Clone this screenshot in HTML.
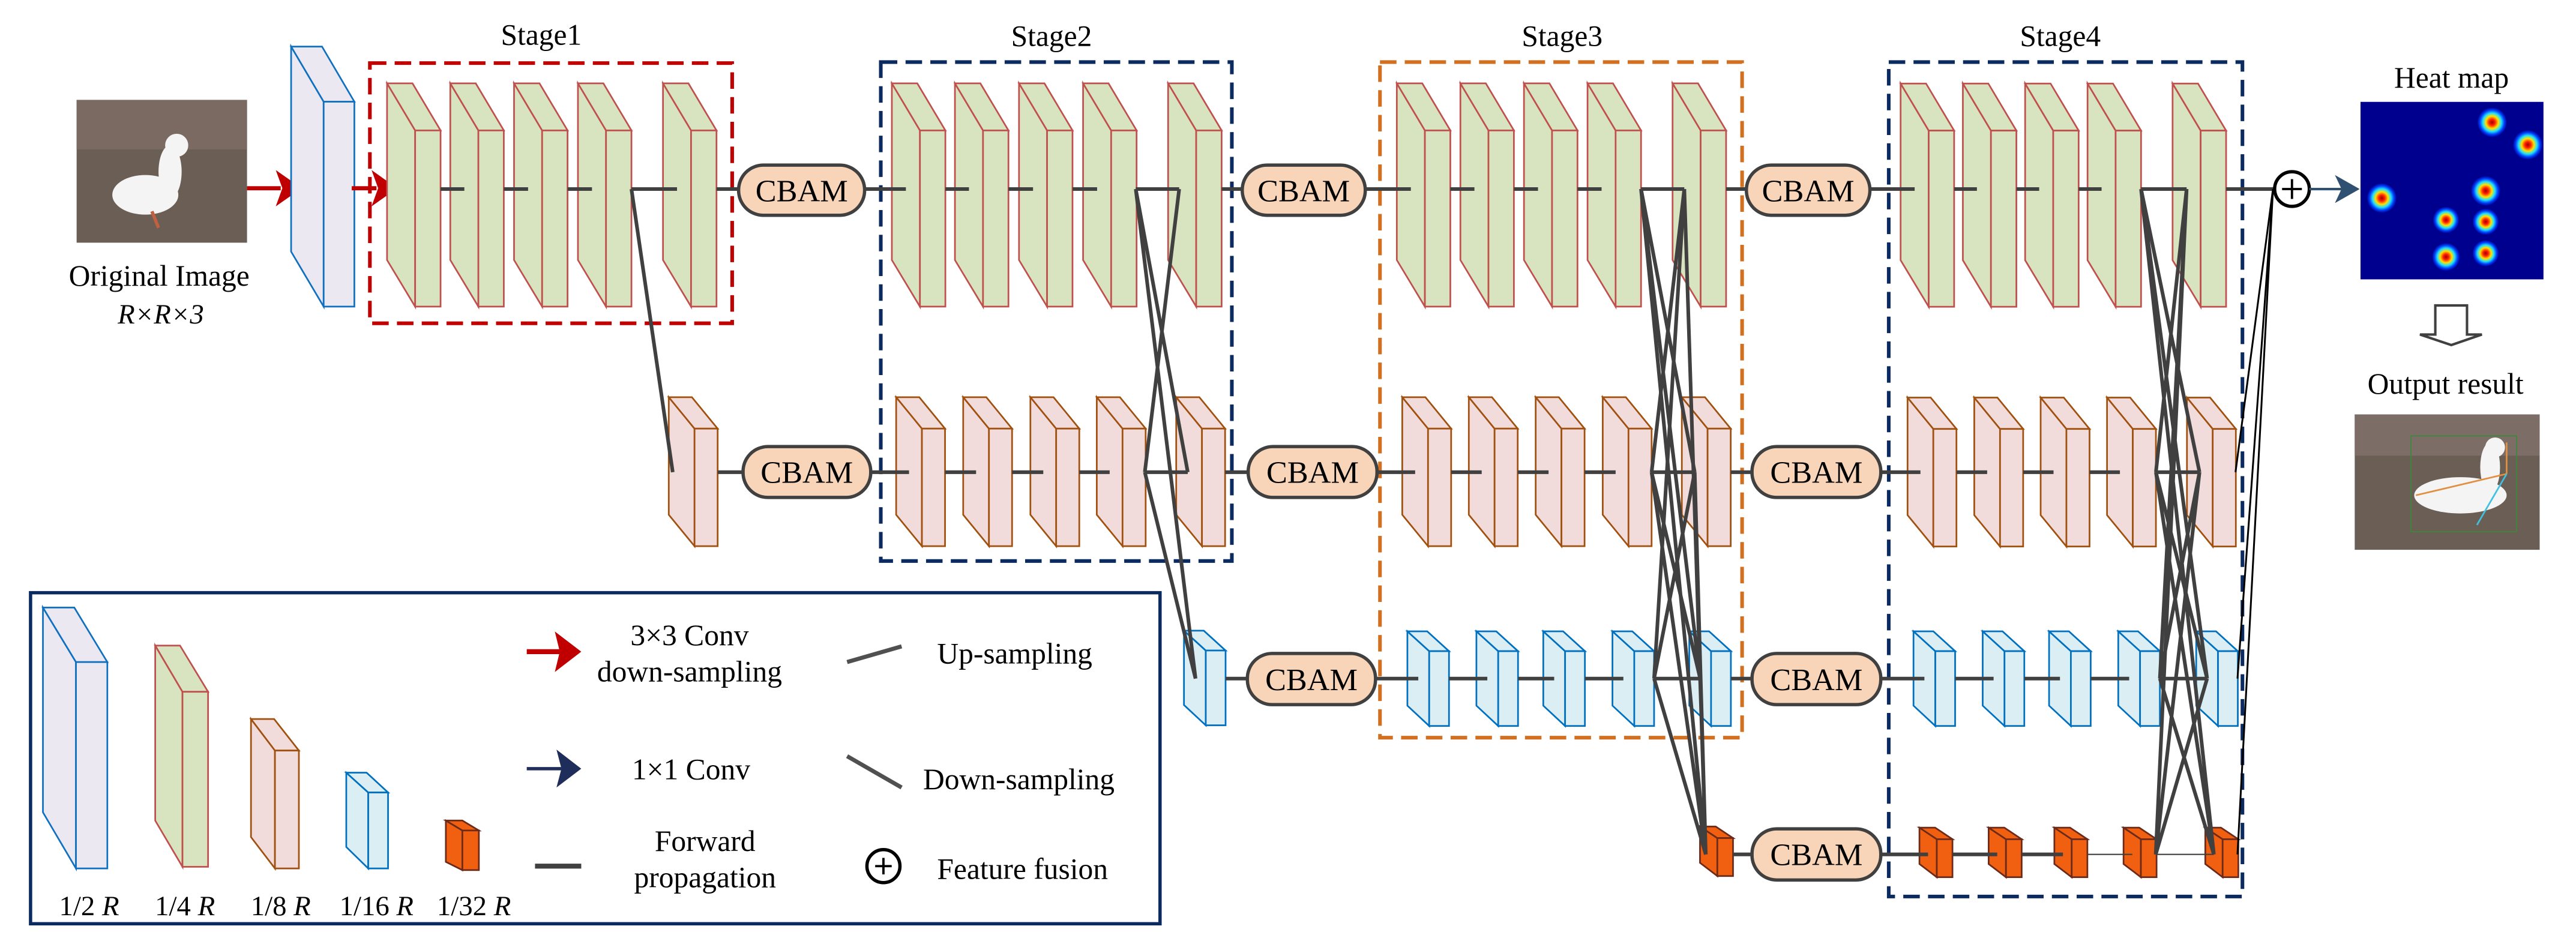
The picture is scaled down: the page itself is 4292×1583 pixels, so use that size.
<!DOCTYPE html>
<html><head><meta charset="utf-8"><style>
html,body{margin:0;padding:0;background:#fff;}
svg{display:block;}
svg text{font-family:"Liberation Serif","DejaVu Serif",serif !important;fill:#000;}
</style></head><body>
<svg width="4292" height="1583" viewBox="0 0 1560 575.4" preserveAspectRatio="none" xmlns="http://www.w3.org/2000/svg" font-family="Liberation Serif, DejaVu Serif, serif">
<defs>
<g id="G" stroke="#c0504d" stroke-width="1" fill="#d8e4c0" stroke-linejoin="miter">
<polygon points="0,0 17,28.5 17,135.2 0,107"/><polygon points="0,0 15.4,0 32.4,28.5 17,28.5"/><rect x="17" y="28.5" width="15.4" height="106.7"/></g>
<g id="P" stroke="#a0500f" stroke-width="1" fill="#f2dcdb">
<polygon points="0,0 15.6,19 15.6,90.2 0,71.2"/><polygon points="0,0 14,0 29.6,19 15.6,19"/><rect x="15.6" y="19" width="14" height="71.2"/></g>
<g id="B" stroke="#0070c0" stroke-width="1" fill="#dbeef4">
<polygon points="0,0 13.2,12 13.2,57.3 0,45"/><polygon points="0,0 12,0 25.2,12 13.2,12"/><rect x="13.2" y="12" width="12" height="45.3"/></g>
<g id="O" stroke="#6b2a1a" stroke-width="1" fill="#f06010">
<polygon points="0,0 10.5,7 10.5,30 0,22"/><polygon points="0,0 9.5,0 20,7 10.5,7"/><rect x="10.5" y="7" width="9.5" height="23"/></g>
<radialGradient id="hm"><stop offset="0" stop-color="#a00000"/><stop offset="0.2" stop-color="#ff2000"/><stop offset="0.42" stop-color="#ffe000"/><stop offset="0.62" stop-color="#20e0ff"/><stop offset="0.82" stop-color="#0040ff"/><stop offset="1" stop-color="#00008f"/></radialGradient>
</defs>

<!-- Original image -->
<rect x="46.4" y="60.5" width="103.2" height="86.5" fill="#6a5e55"/>
<rect x="46.4" y="60.5" width="103.2" height="30" fill="#7a6a62"/>
<ellipse cx="88" cy="118" rx="20" ry="12" fill="#f4f4f4"/>
<ellipse cx="103" cy="104" rx="7" ry="16" fill="#f4f4f4"/>
<circle cx="107" cy="88" r="7" fill="#f4f4f4"/>
<line x1="92" y1="128" x2="96" y2="138" stroke="#c06040" stroke-width="2"/>
<g font-family="Liberation Serif, serif">
<text x="96.4" y="173" font-size="18" text-anchor="middle">Original Image</text>
<text x="97.4" y="196" font-size="17" text-anchor="middle" font-style="italic">R×R×3</text>
</g>
<!-- red arrows -->
<line x1="149.6" y1="114" x2="170" y2="114" stroke="#c00000" stroke-width="2.5"/>
<polygon points="167,103 182.7,114 167,125 171,114" fill="#c00000"/>
<g stroke="#1070c0" stroke-width="1" fill="#ebe8f2"><polygon points="176.3,28.2 196,61.6 196,185.7 176.3,152.4"/><polygon points="176.3,28.2 195,28.2 214.6,61.6 196,61.6"/><rect x="196" y="61.6" width="18.6" height="124.1"/></g>
<line x1="213" y1="114" x2="228" y2="114" stroke="#c00000" stroke-width="2.5"/>
<polygon points="225,103 240.5,114 225,125 229,114" fill="#c00000"/>

<!-- stage boxes -->
<g fill="none" stroke-width="2.2" stroke-dasharray="10,5">
<rect x="224" y="38.2" width="219.4" height="157.6" stroke="#c00000"/>
<rect x="533.4" y="37.6" width="212.6" height="302.2" stroke="#0b2a60"/>
<rect x="835.7" y="37.6" width="219.3" height="409.2" stroke="#d07020"/>
<rect x="1143.8" y="37.6" width="214.2" height="505.4" stroke="#0b2a60"/>
</g>
<g font-size="18" text-anchor="middle" font-family="Liberation Serif, serif">
<text x="327.8" y="27">Stage1</text><text x="636.8" y="27.8">Stage2</text><text x="946" y="27.8">Stage3</text><text x="1247.7" y="27.8">Stage4</text>
</g>

<!-- blocks -->
<use href="#G" x="234.4" y="50.5"/><use href="#G" x="272.7" y="50.5"/><use href="#G" x="311.3" y="50.5"/><use href="#G" x="350" y="50.5"/><use href="#G" x="401.5" y="50.5"/>
<use href="#P" x="405" y="240.6"/>
<use href="#G" x="540.1" y="50.5"/><use href="#G" x="578.3" y="50.5"/><use href="#G" x="617.1" y="50.5"/><use href="#G" x="655.9" y="50.5"/><use href="#G" x="707.4" y="50.5"/>
<use href="#P" x="542.7" y="240.6"/><use href="#P" x="583.3" y="240.6"/><use href="#P" x="624" y="240.6"/><use href="#P" x="664.2" y="240.6"/><use href="#P" x="712.3" y="240.6"/>
<use href="#B" x="717" y="382"/>
<use href="#G" x="845.9" y="50.5"/><use href="#G" x="884.4" y="50.5"/><use href="#G" x="922.9" y="50.5"/><use href="#G" x="961.4" y="50.5"/><use href="#G" x="1012.9" y="50.5"/>
<use href="#P" x="849.2" y="240.6"/><use href="#P" x="889.5" y="240.6"/><use href="#P" x="930" y="240.6"/><use href="#P" x="970.6" y="240.6"/><use href="#P" x="1018.5" y="240.6"/>
<use href="#B" x="852.3" y="382.4"/><use href="#B" x="894.1" y="382.4"/><use href="#B" x="934.6" y="382.4"/><use href="#B" x="976.5" y="382.4"/><use href="#B" x="1023" y="382.4"/>
<use href="#O" x="1029.5" y="500.6"/>
<use href="#G" x="1151" y="50.6"/><use href="#G" x="1188.7" y="50.6"/><use href="#G" x="1226.4" y="50.6"/><use href="#G" x="1264.2" y="50.6"/><use href="#G" x="1315.7" y="50.6"/>
<use href="#P" x="1155.2" y="240.8"/><use href="#P" x="1195.6" y="240.8"/><use href="#P" x="1235.8" y="240.8"/><use href="#P" x="1276" y="240.8"/><use href="#P" x="1324.4" y="240.8"/>
<use href="#B" x="1158.8" y="382.4"/><use href="#B" x="1200.7" y="382.4"/><use href="#B" x="1240.9" y="382.4"/><use href="#B" x="1282.8" y="382.4"/><use href="#B" x="1330" y="382.4"/>
<use href="#O" x="1162.4" y="501.3"/><use href="#O" x="1204.3" y="501.3"/><use href="#O" x="1244.1" y="501.3"/><use href="#O" x="1286" y="501.3"/><use href="#O" x="1335.5" y="501.3"/>

<!-- connectors -->
<g stroke="#404040" stroke-width="2.2" fill="none">
<path d="M266.8 114.5H281.2M305.1 114.5H319.8M343.7 114.5H358.5M382.4 114.5H410M433.9 114.5H447.3"/>
<path d="M382.4 114.5L407.4 286"/>
<path d="M434.6 286H450"/>
<path d="M523.6 114.5H548.6M572.5 114.5H586.8M610.7 114.5H625.6M649.5 114.5H664.4M687.8 114.5H714.1M739.8 114.5H752.3"/>
<path d="M527.3 286H550.5M572.3 286H591.1M612.9 286H631.8M653.6 286H672M693.3 286H719.3M741.9 286H755.9"/>
<path d="M742.2 411H755.4"/>
<path d="M687.8 114.5L719.3 286M714.1 114.5L693.3 286M687.8 114.5L724 411M693.3 286L724 411"/>
<path d="M826.8 114.5H854.4M878.3 114.5H892.9M916.8 114.5H931.4M955.3 114.5H969.9M993.8 114.5H1020M1045.3 114.5H1057.6"/>
<path d="M833.9 286H857M878.8 286H897.3M919.1 286H937.8M959.6 286H978.4M1000.2 286H1026.3M1048.1 286H1061"/>
<path d="M833 411H858.9M877.5 411H900.7M919.3 411H941.2M959.8 411H983.1M1001.7 411H1029.6M1048.2 411H1061"/>
<path d="M1049.5 517.5H1061"/>
<path d="M993.8 114.5L1026.3 286M993.8 114.5L1029.6 411M1000.2 286L1020 114.5M1000.2 286L1029.6 411M1001.7 411L1020 114.5M1001.7 411L1026.3 286"/>
<path d="M993.8 114.5L1033 517.5M1000.2 286L1033 517.5M1001.7 411L1033 517.5M1020 114.5L1033 517.5M1026.3 286L1033 517.5"/>
<path d="M1132.4 114.5H1159.5M1183.4 114.5H1197.2M1221.1 114.5H1234.9M1258.8 114.5H1272.7M1296.6 114.5H1324.2M1348.1 114.5H1377.5"/>
<path d="M1139 286H1163M1184.8 286H1203.4M1225.2 286H1243.6M1265.4 286H1283.8M1305.6 286H1332"/>
<path d="M1139 411H1165.4M1184 411H1207.3M1225.9 411H1247.5M1266.1 411H1289.4M1308 411H1336.6"/>
<path d="M1139 517.5H1167.6M1182.4 517.5H1209.5M1224.3 517.5H1249.3"/>
<path d="M1296.6 114.5L1332 286M1296.6 114.5L1336.6 411M1296.6 114.5L1340.7 517.5M1305.6 286L1324.2 114.5M1305.6 286L1336.6 411M1305.6 286L1340.7 517.5M1308 411L1324.2 114.5M1308 411L1332 286M1308 411L1340.7 517.5M1305.5 517.5L1324.2 114.5M1305.5 517.5L1332 286M1305.5 517.5L1336.6 411"/>
</g>
<g stroke="#404040" stroke-width="0.8"><path d="M1264.1 517.5H1291.3M1305.5 517.5H1340.7"/></g>
<g stroke="#000" stroke-width="1.1"><path d="M1353.8 286L1376.5 114.5M1355 411L1376.5 114.5M1355 517.5L1376.5 114.5"/></g>

<!-- CBAM -->
<g fill="#f8d5b8" stroke="#404040" stroke-width="2">
<rect x="447.3" y="100" width="76.3" height="30.4" rx="15"/>
<rect x="752.3" y="100" width="74.5" height="30.4" rx="15"/>
<rect x="1057.6" y="100" width="74.8" height="30.4" rx="15"/>
<rect x="450" y="270.5" width="77.3" height="30.8" rx="15"/>
<rect x="755.9" y="270.5" width="78" height="30.8" rx="15"/>
<rect x="1061" y="270.5" width="78" height="30.8" rx="15"/>
<rect x="755.4" y="395.8" width="77.6" height="31" rx="15"/>
<rect x="1061" y="395.8" width="78" height="31" rx="15"/>
<rect x="1061" y="502" width="78" height="31" rx="15"/>
</g>
<g font-size="19" text-anchor="middle" font-family="Liberation Serif, serif">
<text x="485.5" y="122">CBAM</text><text x="789.5" y="122">CBAM</text><text x="1095" y="122">CBAM</text>
<text x="488.6" y="292.5">CBAM</text><text x="794.9" y="292.5">CBAM</text><text x="1100" y="292.5">CBAM</text>
<text x="794.2" y="418">CBAM</text><text x="1100" y="418">CBAM</text><text x="1100" y="524">CBAM</text>
</g>

<!-- fusion and output -->
<circle cx="1388" cy="114.5" r="10.5" fill="#fff" stroke="#000" stroke-width="2"/>
<path d="M1382 114.5H1394M1388 108.5V120.5" stroke="#000" stroke-width="1.4"/>
<line x1="1398.5" y1="114.5" x2="1420" y2="114.5" stroke="#2f5070" stroke-width="1.5"/>
<polygon points="1414,106 1429,114.5 1414,123 1418,114.5" fill="#2f5070"/>
<rect x="1429.5" y="61.7" width="110.8" height="107.5" fill="#00008f"/>
<g fill="url(#hm)">
<circle cx="1509.2" cy="74.1" r="9"/><circle cx="1530.8" cy="87.7" r="9"/><circle cx="1442.4" cy="120" r="9"/><circle cx="1505.3" cy="115.6" r="9"/>
<circle cx="1481.3" cy="133.2" r="8"/><circle cx="1505.3" cy="134.3" r="8"/><circle cx="1481.3" cy="155.6" r="8.5"/><circle cx="1505.3" cy="153.4" r="8"/>
</g>
<polygon points="1474.8,185 1494,185 1494,202.6 1503,202.6 1484.5,209 1465.5,202.6 1474.8,202.6" fill="#fff" stroke="#404040" stroke-width="1.5"/>
<rect x="1426" y="251" width="112" height="82" fill="#6a5e55"/>
<rect x="1426" y="251" width="112" height="25" fill="#7c6e66"/>
<rect x="1460" y="264" width="64" height="58" fill="none" stroke="#3a8a3a" stroke-width="0.6"/>
<ellipse cx="1490" cy="300" rx="28" ry="11" fill="#f4f4f4"/>
<ellipse cx="1508" cy="283" rx="6" ry="15" fill="#f4f4f4"/>
<circle cx="1511" cy="271" r="6" fill="#f4f4f4"/>
<path d="M1463 300L1518 287M1518 287V268" stroke="#e09040" stroke-width="1" fill="none"/>
<path d="M1518 287L1500 318" stroke="#40c0e0" stroke-width="1"/>
<g font-size="18" text-anchor="middle" font-family="Liberation Serif, serif">
<text x="1484.6" y="53">Heat map</text>
<text x="1481" y="238.5">Output result</text>
</g>

<!-- legend -->
<rect x="18.5" y="359" width="684" height="200.5" fill="none" stroke="#0b2a60" stroke-width="2"/>
<g stroke-width="1">
<g stroke="#1070c0" fill="#ebe8f2"><polygon points="26,368 46,401 46,526 26,492"/><polygon points="26,368 45,368 65,401 46,401"/><rect x="46" y="401" width="19" height="125"/></g>
<g stroke="#c0504d" fill="#d8e4c0"><polygon points="94,391 110.5,419 110.5,525 94,497"/><polygon points="94,391 109,391 126,419 110.5,419"/><rect x="110.5" y="419" width="15.5" height="106"/></g>
<g stroke="#a0500f" fill="#f2dcdb"><polygon points="152,435.5 166.5,454.6 166.5,526 152,507"/><polygon points="152,435.5 166,435.5 181,454.6 166.5,454.6"/><rect x="166.5" y="454.6" width="14.5" height="71.4"/></g>
<g stroke="#0070c0" fill="#dbeef4"><polygon points="209.7,468 223,480 223,526 209.7,513"/><polygon points="209.7,468 222,468 235,480 223,480"/><rect x="223" y="480" width="12" height="46"/></g>
<g stroke="#6b2a1a" fill="#f06010"><polygon points="270,497 280,503 280,527 270,522"/><polygon points="270,497 280,497 290,503 280,503"/><rect x="280" y="503" width="10" height="24"/></g>
</g>
<g font-size="17" text-anchor="middle" font-family="Liberation Serif, serif">
<text x="54" y="554.4">1/2 <tspan font-style="italic">R</tspan></text>
<text x="112" y="554.4">1/4 <tspan font-style="italic">R</tspan></text>
<text x="170" y="554.4">1/8 <tspan font-style="italic">R</tspan></text>
<text x="228" y="554.4">1/16 <tspan font-style="italic">R</tspan></text>
<text x="287" y="554.4">1/32 <tspan font-style="italic">R</tspan></text>
</g>
<line x1="319" y1="394.7" x2="340" y2="394.7" stroke="#c00000" stroke-width="3"/>
<polygon points="336,382.5 352,394.7 336,407 339,394.7" fill="#c00000"/>
<line x1="319" y1="465.6" x2="340" y2="465.6" stroke="#1f2d5a" stroke-width="2"/>
<polygon points="337,454 352,465.6 337,477 340,465.6" fill="#1f2d5a"/>
<line x1="324" y1="524.6" x2="352" y2="524.6" stroke="#404040" stroke-width="3"/>
<line x1="513" y1="401" x2="546" y2="391.5" stroke="#505050" stroke-width="2.5"/>
<line x1="513" y1="458" x2="546" y2="477" stroke="#505050" stroke-width="2.5"/>
<circle cx="535" cy="524.6" r="10" fill="#fff" stroke="#000" stroke-width="2"/>
<path d="M530 524.6H540M535 519.6V529.6" stroke="#000" stroke-width="1.4"/>
<g font-size="18" font-family="Liberation Serif, serif">
<text x="417.6" y="390.8" text-anchor="middle">3×3 Conv</text>
<text x="417.6" y="412.8" text-anchor="middle">down-sampling</text>
<text x="418.5" y="472" text-anchor="middle">1×1 Conv</text>
<text x="427" y="515.5" text-anchor="middle">Forward</text>
<text x="427" y="537.5" text-anchor="middle">propagation</text>
<text x="567.5" y="401.8">Up-sampling</text>
<text x="559" y="478">Down-sampling</text>
<text x="567.5" y="532.4">Feature fusion</text>
</g>
</svg>
</body></html>
